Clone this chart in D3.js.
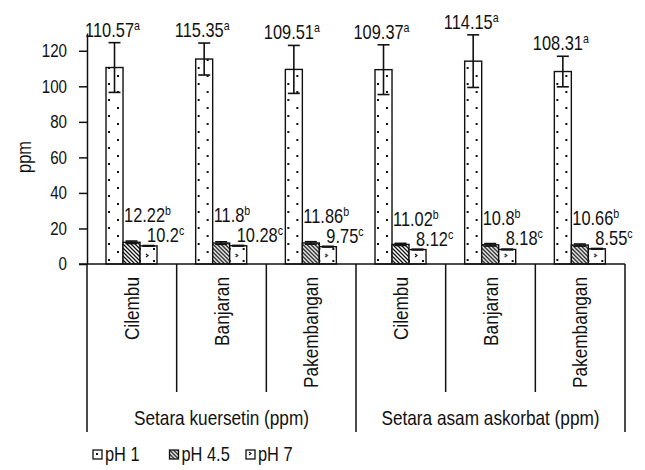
<!DOCTYPE html>
<html>
<head>
<meta charset="utf-8">
<script src="https://cdn.jsdelivr.net/npm/d3@7"></script>
<style>
  body { margin: 0; background: #fff; }
  svg text { font-family: "Liberation Sans", Arial, sans-serif; fill: #111; }
</style>
</head>
<body>
<div id="chart"></div>
<script>
// data
const groups = ["Setara kuersetin (ppm)", "Setara asam askorbat (ppm)"];
const sites = ["Cilembu", "Banjaran", "Pakembangan"];
const series = ["pH 1", "pH 4.5", "pH 7"];

const valPH1 = [110.57, 115.35, 109.51, 109.37, 114.15, 108.31];
const valPH45 = [12.22, 11.8, 11.86, 11.02, 10.8, 10.66];
const valPH7 = [10.2, 10.28, 9.75, 8.12, 8.18, 8.55];

const errPH1 = [14, 9, 13.5, 14, 14.8, 8.6];
const errPH45 = [0.7, 0.7, 0.7, 0.6, 0.7, 0.6];
const errPH7 = [0.2, 0.2, 0.2, 0.2, 0.2, 0.2];

const letPH1 = ["a", "a", "a", "a", "a", "a"];
const letPH45 = ["b", "b", "b", "b", "b", "b"];
const letPH7 = ["c", "c", "c", "c", "c", "c"];

const yTicks = [0, 20, 40, 60, 80, 100, 120];
const yMax = 130;

// build rows
let keys = [];
groups.forEach(g => sites.forEach(s => keys.push(g + "|" + s)));
let rows = keys.map((k, i) => ({
  key: k, group: k.split("|")[0], site: k.split("|")[1],
  vals: [
    { s: "pH 1", v: valPH1[i], e: errPH1[i], l: letPH1[i] },
    { s: "pH 4.5", v: valPH45[i], e: errPH45[i], l: letPH45[i] },
    { s: "pH 7", v: valPH7[i], e: errPH7[i], l: letPH7[i] }
  ]
}));

let width = 645, height = 470;
let margin = { left: 87, right: 625, top: 33, bottom: 264 };

let svg = d3.select("#chart").append("svg")
  .attr("width", width)
  .attr("height", height);

// fill patterns
let defs = svg.append("defs");
let p1 = defs.append("pattern").attr("id", "pat1")
  .attr("patternUnits", "userSpaceOnUse").attr("width", 18).attr("height", 16);
p1.append("rect").attr("width", 18).attr("height", 16).attr("fill", "#fff");
p1.append("rect").attr("x", 3).attr("y", 3).attr("width", 2).attr("height", 2).attr("fill", "#111");
p1.append("rect").attr("x", 12).attr("y", 11).attr("width", 2).attr("height", 2).attr("fill", "#111");

let p2 = defs.append("pattern").attr("id", "pat2")
  .attr("patternUnits", "userSpaceOnUse").attr("width", 4).attr("height", 4);
p2.append("rect").attr("width", 4).attr("height", 4).attr("fill", "#fff");
p2.append("path").attr("d", "M-1,-1L5,5M-1,3L1,5M3,-1L5,1")
  .attr("stroke", "#111").attr("stroke-width", 1.3);

let p3 = defs.append("pattern").attr("id", "pat3")
  .attr("patternUnits", "userSpaceOnUse").attr("width", 14).attr("height", 12);
p3.append("rect").attr("width", 14).attr("height", 12).attr("fill", "#fff");
p3.append("path").attr("d", "M3,2L5,3.5L3,5").attr("stroke", "#111").attr("fill", "none").attr("stroke-width", 1.2);
p3.append("rect").attr("x", 10).attr("y", 8).attr("width", 2).attr("height", 2).attr("fill", "#111");

let fills = { "pH 1": "url(#pat1)", "pH 4.5": "url(#pat2)", "pH 7": "url(#pat3)" };

// scales
let x0 = d3.scaleBand().domain(keys).range([margin.left, margin.right]);
let bw = x0.bandwidth();
let x1 = d3.scaleBand().domain(series).range([bw * 0.212, bw * 0.781]);
let y = d3.scaleLinear().domain([0, yMax]).range([margin.bottom, margin.top]);

// squeeze text horizontally, the original uses a narrow face
function narrow(sel) {
  sel.each(function () {
    let t = d3.select(this);
    let tx = +t.attr("x") || 0, ty = +t.attr("y") || 0;
    let tr = t.attr("transform") || "";
    t.attr("x", 0).attr("y", 0)
      .attr("transform", tr + " translate(" + tx + "," + ty + ") scale(0.82,1)");
  });
}

// y axis
let yAxis = svg.append("g")
  .attr("transform", "translate(" + margin.left + ",0)")
  .call(d3.axisLeft(y).tickValues(yTicks).tickSize(8).tickPadding(12).tickSizeOuter(0));
yAxis.select(".domain").attr("stroke", "#111").attr("stroke-width", 1.5);
yAxis.selectAll(".tick line").attr("stroke", "#111").attr("stroke-width", 1.5);
yAxis.selectAll(".tick text").attr("font-size", 18.5).attr("font-family", null).call(narrow);

svg.append("text")
  .attr("transform", "translate(31,157) rotate(-90)")
  .attr("text-anchor", "middle")
  .attr("font-size", 20)
  .text("ppm")
  .call(narrow);

// bars
let grp = svg.selectAll(".grp").data(rows).enter().append("g")
  .attr("class", "grp")
  .attr("transform", d => "translate(" + x0(d.key) + ",0)");

grp.selectAll("rect").data(d => d.vals).enter().append("rect")
  .attr("x", d => x1(d.s))
  .attr("y", d => y(d.v))
  .attr("width", x1.bandwidth())
  .attr("height", d => y(0) - y(d.v))
  .attr("fill", d => fills[d.s])
  .attr("stroke", "#111")
  .attr("stroke-width", 1.4);

// error bars
let eb = grp.selectAll(".err").data(d => d.vals).enter().append("g").attr("class", "err")
  .attr("stroke", "#111").attr("stroke-width", 1.6);
let cx = d => x1(d.s) + x1.bandwidth() / 2;
eb.append("line")
  .attr("x1", cx).attr("x2", cx)
  .attr("y1", d => y(d.v + d.e)).attr("y2", d => y(d.v - d.e));
[1, -1].forEach(sg => {
  eb.append("line")
    .attr("x1", d => cx(d) - 6).attr("x2", d => cx(d) + 6)
    .attr("y1", d => y(d.v + sg * d.e)).attr("y2", d => y(d.v + sg * d.e));
});

// value labels
function label(sel, txt, letter) {
  sel.text(txt);
  sel.append("tspan").attr("font-size", 13).attr("dy", -7).text(letter);
  sel.call(narrow);
}
grp.each(function (d) {
  let g = d3.select(this);
  let a = d.vals[0], b = d.vals[1], c = d.vals[2];
  g.append("text")
    .attr("x", cx(a) - 2)
    .attr("y", y(a.v + a.e) - 6)
    .attr("text-anchor", "middle")
    .attr("font-size", 20)
    .call(label, a.v, a.l);
  let yc = y(c.v) - 4;
  g.append("text")
    .attr("x", x1(c.s) + 7)
    .attr("y", yc)
    .attr("font-size", 20)
    .call(label, c.v, c.l);
  g.append("text")
    .attr("x", x1(b.s) + 1)
    .attr("y", yc - 20)
    .attr("font-size", 20)
    .call(label, b.v, b.l);
});

// category axis
svg.append("line")
  .attr("x1", margin.left - 8).attr("x2", margin.right)
  .attr("y1", margin.bottom).attr("y2", margin.bottom)
  .attr("stroke", "#111").attr("stroke-width", 1.5);

let edges = keys.map(k => x0(k)).concat([margin.right]);
edges.forEach((ex, i) => {
  let outer = i % sites.length === 0;
  svg.append("line")
    .attr("x1", ex).attr("x2", ex)
    .attr("y1", margin.bottom).attr("y2", outer ? 432 : 392)
    .attr("stroke", "#111").attr("stroke-width", 1.5);
});

svg.selectAll(".site").data(rows).enter().append("text")
  .attr("class", "site")
  .attr("transform", d => "translate(" + (x0(d.key) + bw / 2) + ",277) rotate(-90)")
  .attr("text-anchor", "end")
  .attr("dominant-baseline", "central")
  .attr("font-size", 21)
  .text(d => d.site)
  .call(narrow);

groups.forEach(g => {
  let ks = keys.filter(k => k.startsWith(g + "|"));
  let mid = (x0(ks[0]) + x0(ks[ks.length - 1]) + bw) / 2;
  svg.append("text")
    .attr("x", mid).attr("y", 425)
    .attr("text-anchor", "middle")
    .attr("font-size", 21)
    .text(g)
    .call(narrow);
});

// legend
let lg = svg.selectAll(".leg").data(series).enter().append("g")
  .attr("class", "leg")
  .attr("transform", (d, i) => "translate(" + (93 + i * 76.5) + ",450)");
lg.append("rect")
  .attr("width", 9).attr("height", 9)
  .attr("fill", d => fills[d])
  .attr("stroke", "#111").attr("stroke-width", 1.3);
lg.append("text")
  .attr("x", 12).attr("y", 11)
  .attr("font-size", 20)
  .text(d => d)
  .call(narrow);
</script>
</body>
</html>
